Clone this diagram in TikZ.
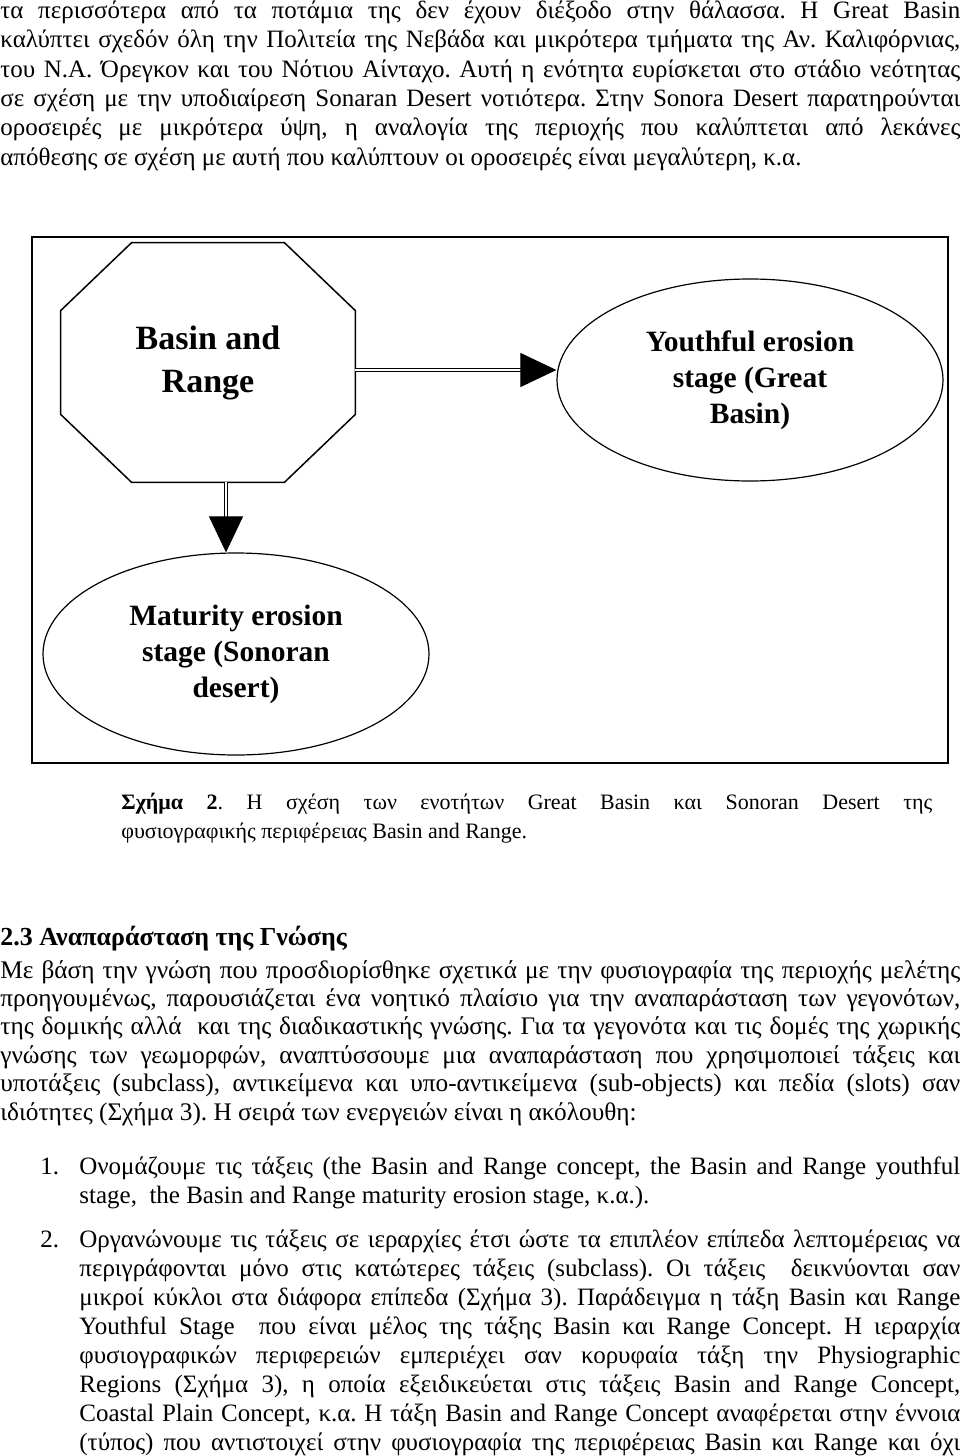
\documentclass[tikz,border=0pt]{standalone}
\usepackage{fontspec}
\setmainfont{Liberation Serif}
\usetikzlibrary{shapes.geometric,arrows.meta,calc}
\frenchspacing

\tikzset{every picture/.style={line width=0.75pt}}
\tikzset{
  region/.style={minimum width=294pt,minimum height=239pt,inner sep=0pt,align=center,font=\fontsize{34}{43}\selectfont\bfseries},
  stage/.style={draw,ellipse,line width=1.2pt,minimum width=386pt,minimum height=202pt,inner sep=0pt,align=center,font=\fontsize{29.5}{36}\selectfont\bfseries},
  link/.style={double,double distance=2.4pt,line width=1pt,-{Triangle[length=36pt,width=34pt]}},
  body/.style={anchor=base west,inner sep=0pt,font=\fontsize{25}{29.3}\selectfont},
}
% one justified line of the page
\newcommand{\jline}[1]{\hbox to \hsize{#1}}

\begin{document}
\begin{tikzpicture}[x=1pt,y=1pt,yscale=-1,xscale=1]
\useasboundingbox (0,0) rectangle (960,1456);

% Text Node
\node [body] (para1) at (0,18.5) {\parbox[t]{960pt}{%
\jline{τα περισσότερα από τα ποτάμια της δεν έχουν διέξοδο στην θάλασσα. Η Great Basin}%
\jline{καλύπτει σχεδόν όλη την Πολιτεία της Νεβάδα και μικρότερα τμήματα της Αν. Καλιφόρνιας,}%
\jline{του Ν.Α. Όρεγκον και του Νότιου Αίνταχο. Αυτή η ενότητα ευρίσκεται στο στάδιο νεότητας}%
\jline{σε σχέση με την υποδιαίρεση Sonaran Desert νοτιότερα. Στην Sonora Desert παρατηρούνται}%
\jline{οροσειρές με μικρότερα ύψη, η αναλογία της περιοχής που καλύπτεται από λεκάνες}%
\hbox{απόθεσης σε σχέση με αυτή που καλύπτουν οι οροσειρές είναι μεγαλύτερη, κ.α.}}};

%Frame
\draw [line width=2pt] (32,237) rectangle (948,763);

%Octagon
\node [region] (basin) at (208,362.5) {Basin and\\Range};
\draw [line width=1.5pt] ($(basin.north west)+(71,0)$) -- ($(basin.north east)+(-71,0)$) -- ($(basin.north east)+(0,68)$) -- ($(basin.south east)+(0,-68)$) -- ($(basin.south east)+(-71,0)$) -- ($(basin.south west)+(71,0)$) -- ($(basin.south west)+(0,-68)$) -- ($(basin.north west)+(0,68)$) -- cycle;

%Ellipses
\node [stage] (youth) at (750,380) {Youthful erosion\\stage (Great\\Basin)};
\node [stage] (mature) at (236,654) {Maturity erosion\\stage (Sonoran\\desert)};

%Arrows
\coordinate (basinR) at ($(basin.east)+(0,7.5)$);
\coordinate (basinB) at ($(basin.south)+(18,0)$);
\draw [link] (basinR) -- (basinR -| youth.west);
\draw [link] (basinB) -- (basinB |- mature.north);

% Text Node
\node [body,font=\fontsize{22}{29}\selectfont] (caption) at (121,809) {\parbox[t]{811pt}{%
\jline{\textbf{Σχήμα 2}. Η σχέση των ενοτήτων Great Basin και Sonoran Desert της}%
\hbox{φυσιογραφικής περιφέρειας Basin and Range.}}};

% Text Node
\node [body,font=\fontsize{26}{29}\selectfont\bfseries] (heading) at (0,945) {2.3 Αναπαράσταση της Γνώσης};

% Text Node
\node [body,font=\fontsize{25.3}{28.4}\selectfont] (para2) at (0,978) {\parbox[t]{960pt}{%
\jline{Με βάση την γνώση που προσδιορίσθηκε σχετικά με την φυσιογραφία της περιοχής μελέτης}%
\jline{προηγουμένως, παρουσιάζεται ένα νοητικό πλαίσιο για την αναπαράσταση των γεγονότων,}%
\jline{της δομικής αλλά \ και της διαδικαστικής γνώσης. Για τα γεγονότα και τις δομές της χωρικής}%
\jline{γνώσης των γεωμορφών, αναπτύσσουμε μια αναπαράσταση που χρησιμοποιεί τάξεις και}%
\jline{υποτάξεις (subclass), αντικείμενα και υπο-αντικείμενα (sub-objects) και πεδία (slots) σαν}%
\hbox{ιδιότητες (Σχήμα 3). Η σειρά των ενεργειών είναι η ακόλουθη:}}};

% Text Node
\node [body] (num1) at (40,1174) {1.};
\node [body,font=\fontsize{25}{29}\selectfont] (item1) at (79,1174) {\parbox[t]{881pt}{%
\jline{Ονομάζουμε τις τάξεις (the Basin and Range concept, the Basin and Range youthful}%
\hbox{stage, \ the Basin and Range maturity erosion stage, κ.α.).}}};

% Text Node
\node [body] (num2) at (40,1247) {2.};
\node [body,font=\fontsize{25}{29}\selectfont] (item2) at (79,1247) {\parbox[t]{881pt}{%
\jline{Οργανώνουμε τις τάξεις σε ιεραρχίες έτσι ώστε τα επιπλέον επίπεδα λεπτομέρειας να}%
\jline{περιγράφονται μόνο στις κατώτερες τάξεις (subclass). Οι τάξεις \ δεικνύονται σαν}%
\jline{μικροί κύκλοι στα διάφορα επίπεδα (Σχήμα 3). Παράδειγμα η τάξη Basin και Range}%
\jline{Youthful Stage \ που είναι μέλος της τάξης Basin και Range Concept. Η ιεραρχία}%
\jline{φυσιογραφικών περιφερειών εμπεριέχει σαν κορυφαία τάξη την Physiographic}%
\jline{Regions (Σχήμα 3), η οποία εξειδικεύεται στις τάξεις Basin and Range Concept,}%
\jline{Coastal Plain Concept, κ.α. Η τάξη Basin and Range Concept αναφέρεται στην έννοια}%
\jline{(τύπος) που αντιστοιχεί στην φυσιογραφία της περιφέρειας Basin και Range και όχι}}};

\end{tikzpicture}
\end{document}
